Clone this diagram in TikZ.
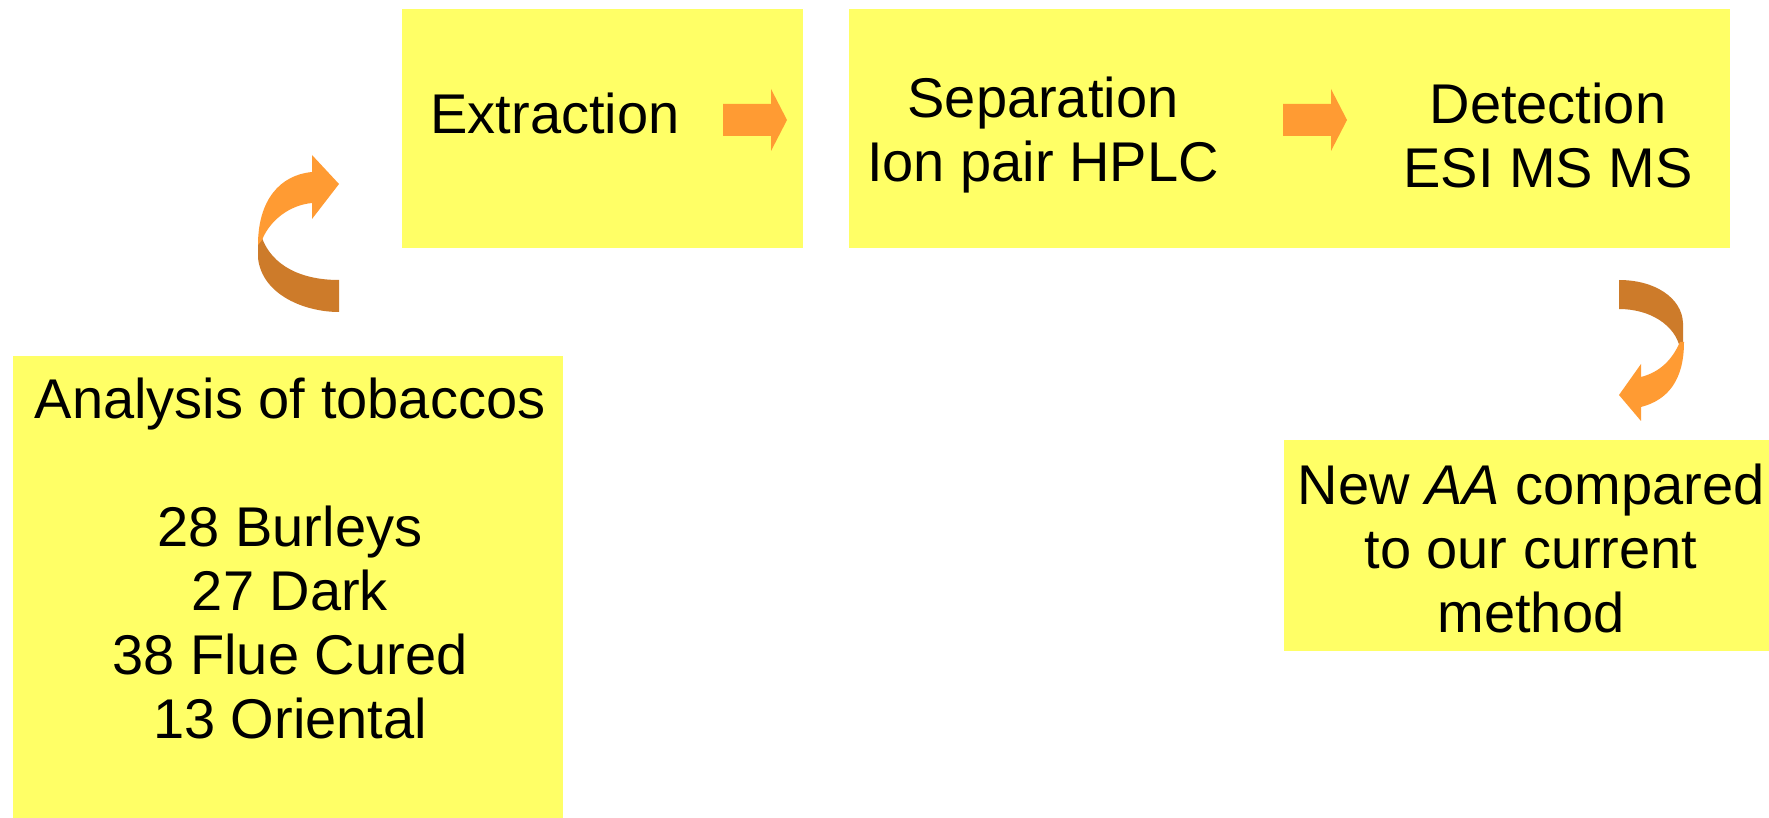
\documentclass[tikz,border=0pt]{standalone}
\usepackage{fontspec}
\setmainfont{Liberation Sans}
\definecolor{boxyellow}{HTML}{FFFF66}
\definecolor{arrlight}{HTML}{FF9B33}
\definecolor{arrdark}{HTML}{CD7B2A}
\begin{document}
\begin{tikzpicture}[x=0.5pt,y=-0.5pt,
  boxfill/.style={fill=boxyellow},
  txt/.style={inner sep=0pt,align=center,font=\fontsize{28}{32}\selectfont},
  flatarrow/.style={fill=arrlight},
  lightpart/.style={fill=arrlight},
  darkpart/.style={fill=arrdark}]
\useasboundingbox (0,0) rectangle (1769,818);
\fill[white] (0,0) rectangle (1769,818);
% boxes
\fill[boxfill] (402,9) rectangle (803,248);
\fill[boxfill] (849,9) rectangle (1730,248);
\fill[boxfill] (13,356) rectangle (563,818);
\fill[boxfill] (1284,440) rectangle (1769,651);
% texts
\node[txt] (extr) at (555,113) {Extraction};
\node[txt] (sep) at (1043,135) {Separation\\Ion pair HPLC};
\node[txt] (det) at (1548,135) {Detection\\ESI MS MS};
\node[txt] (ana) at (290,558) {Analysis of tobaccos\\[32pt]28 Burleys\\27 Dark\\38 Flue Cured\\13 Oriental};
\node[txt] (newaa) at (1531,548) {New \textit{AA} compared\\to our current\\method};
% straight block arrows
\fill[flatarrow] (723,104) -- (771,104) -- (771,89) -- (787,120) -- (771,151) -- (771,136) -- (723,136) -- cycle;
\fill[flatarrow] (1283,104) -- (1331,104) -- (1331,89) -- (1347,120) -- (1331,151) -- (1331,136) -- (1283,136) -- cycle;
% curved arrow left (upward)
\fill[darkpart] (262,238) -- (258,238) -- (258,258) .. controls (262,295) and (305,312) .. (339,312) -- (339,280) .. controls (300,280) and (272,265) .. (262,238) -- cycle;
\fill[lightpart] (258,245) .. controls (258,200) and (280,175) .. (312,172) -- (312,155) -- (339,184) -- (312,219) -- (312,203) .. controls (290,205) and (270,220) .. (262,240) -- cycle;
% curved arrow right (downward)
\fill[darkpart] (1619,280) .. controls (1655,280) and (1682,298) .. (1683,323) -- (1683,348) -- (1680,348) .. controls (1675,325) and (1650,309) .. (1619,309) -- cycle;
\fill[lightpart] (1680,342) .. controls (1672,360) and (1660,372) .. (1641,377) -- (1641,364) -- (1619,395) -- (1641,421) -- (1641,407) .. controls (1668,400) and (1684,380) .. (1684,342) -- cycle;
\end{tikzpicture}
\end{document}
